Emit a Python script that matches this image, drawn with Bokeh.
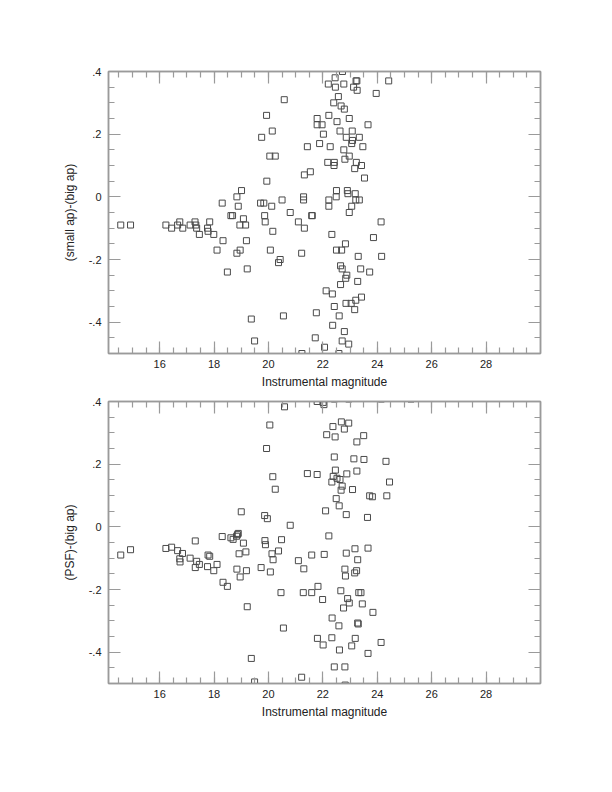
from bokeh.plotting import figure
from bokeh.layouts import column
from bokeh.models import Range1d, LinearAxis, FixedTicker, CustomJSTickFormatter
from bokeh.embed import file_html
from bokeh.resources import INLINE
import numpy as np

# ---- data: top panel, (small ap)-(big ap) vs instrumental magnitude ----
mag_top = [14.57, 14.93, 16.23, 16.44, 16.66, 16.74, 16.85, 17.12, 17.30, 17.33, 17.36, 17.46,
           17.76, 17.78, 17.84, 17.99, 18.11, 18.30, 18.33, 18.49, 18.62, 18.68, 18.84, 18.84,
           18.89, 18.96, 18.95, 19.01, 19.08, 19.16, 19.19, 19.22, 19.37, 19.49, 19.75, 19.71,
           19.83, 19.86, 19.88, 19.93, 19.94, 20.05, 20.07, 20.12, 20.14, 20.16, 20.25, 20.37,
           20.43, 20.50, 20.55, 20.58, 20.80, 21.10, 21.22, 21.23, 21.29, 21.29, 21.32, 21.32,
           21.43, 21.54, 21.59, 21.61, 21.76, 21.72, 21.79, 21.79, 21.88, 21.97, 22.02, 22.06,
           22.12, 22.20, 22.22, 22.18, 22.22, 22.22, 22.27, 22.33, 22.35, 22.36, 22.40, 22.41,
           22.42, 22.42, 22.45, 22.46, 22.49, 22.50, 22.50, 22.52, 22.57, 22.59, 22.60, 22.63,
           22.65, 22.67, 22.69, 22.71, 22.65, 22.71, 22.72, 22.77, 22.77, 22.79, 22.79, 22.81,
           22.83, 22.84, 22.85, 22.86, 22.88, 22.90, 22.92, 22.97, 22.97, 22.97, 22.95, 23.04,
           23.06, 23.06, 23.08, 23.09, 23.13, 23.17, 23.17, 23.19, 23.21, 23.21, 23.22, 23.25,
           23.23, 23.26, 23.30, 23.28, 23.34, 23.34, 23.39, 23.42, 23.42, 23.47, 23.53, 23.66,
           23.72, 23.86, 23.96, 24.14, 24.16, 24.42]
diff_top = [-0.09, -0.09, -0.09, -0.10, -0.09, -0.08, -0.10, -0.09, -0.08, -0.09, -0.10, -0.12,
            -0.10, -0.11, -0.08, -0.12, -0.17, -0.02, -0.14, -0.24, -0.06, -0.06, 0.00, -0.18,
            -0.03, -0.17, -0.09, 0.02, -0.07, -0.09, -0.14, -0.23, -0.39, -0.46, 0.19, -0.02,
            -0.02, -0.06, -0.08, 0.26, 0.05, 0.13, -0.17, -0.03, 0.21, -0.11, 0.13, -0.21,
            -0.20, -0.01, -0.38, 0.31, -0.05, -0.08, -0.18, -0.50, 0.00, -0.01, 0.07, -0.10,
            0.16, 0.08, -0.06, -0.06, -0.37, -0.45, 0.25, 0.23, 0.17, 0.23, 0.20, -0.48,
            -0.30, 0.36, 0.26, 0.11, -0.03, -0.01, 0.16, -0.12, -0.31, -0.41, 0.30, 0.10,
            0.11, -0.35, 0.38, 0.35, 0.00, 0.02, -0.17, 0.24, 0.32, -0.50, -0.38, 0.21,
            -0.22, 0.29, -0.17, -0.23, -0.28, -0.46, 0.40, 0.36, 0.15, 0.28, -0.43, 0.12,
            -0.15, -0.26, -0.34, 0.19, -0.25, 0.02, 0.01, 0.25, -0.05, 0.13, -0.47, -0.34,
            -0.03, 0.17, 0.21, 0.18, 0.35, 0.09, -0.36, 0.01, -0.01, -0.33, 0.37, 0.37,
            0.11, 0.34, -0.19, -0.27, -0.01, 0.19, -0.23, 0.10, -0.32, 0.16, 0.06, 0.23,
            -0.24, -0.13, 0.33, -0.08, -0.19, 0.37]

# ---- data: bottom panel, (PSF)-(big ap) vs instrumental magnitude ----
mag_bot = [14.57, 14.93, 16.23, 16.44, 16.66, 16.74, 16.75, 16.84, 17.12, 17.31, 17.31, 17.36,
           17.46, 17.78, 17.76, 17.84, 17.99, 18.11, 18.30, 18.33, 18.49, 18.62, 18.70, 18.83,
           18.86, 18.89, 18.84, 18.92, 18.96, 19.00, 19.08, 19.17, 19.19, 19.22, 19.37, 19.49,
           19.73, 19.86, 19.87, 19.89, 19.93, 19.96, 20.05, 20.07, 20.13, 20.16, 20.17, 20.25,
           20.37, 20.46, 20.48, 20.55, 20.59, 20.80, 21.10, 21.22, 21.28, 21.30, 21.43, 21.59,
           21.59, 21.79, 21.79, 21.80, 21.82, 21.99, 22.01, 22.01, 22.05, 22.04, 22.10, 22.14,
           22.22, 22.33, 22.34, 22.37, 22.33, 22.38, 22.42, 22.42, 22.45, 22.46, 22.49, 22.52,
           22.59, 22.60, 22.61, 22.63, 22.66, 22.67, 22.68, 22.71, 22.76, 22.79, 22.81, 22.81,
           22.83, 22.86, 22.88, 22.86, 22.91, 22.95, 22.97, 22.82, 23.06, 23.09, 23.14, 23.17,
           23.18, 23.24, 23.19, 23.25, 23.25, 23.28, 23.30, 23.28, 23.32, 23.40, 23.45, 23.50,
           23.51, 23.64, 23.66, 23.66, 23.72, 23.82, 23.84, 24.14, 24.32, 24.35, 24.45,
           22.42, 22.95, 24.15, 25.24]
diff_bot = [-0.090, -0.073, -0.069, -0.065, -0.076, -0.102, -0.112, -0.085, -0.100, -0.045, -0.130, -0.110,
            -0.120, -0.090, -0.127, -0.094, -0.140, -0.120, -0.031, -0.177, -0.190, -0.035, -0.040, -0.030,
            -0.025, -0.021, -0.135, -0.086, -0.160, 0.048, -0.052, -0.080, -0.140, -0.255, -0.420, -0.495,
            -0.130, 0.036, -0.044, -0.057, 0.250, 0.026, 0.325, -0.144, -0.086, 0.160, -0.105, 0.120,
            -0.077, -0.210, -0.041, -0.323, 0.383, 0.005, -0.108, -0.480, -0.210, -0.134, 0.170, -0.090,
            -0.210, 0.400, 0.167, -0.356, -0.190, -0.232, -0.377, 0.397, -0.088, 0.390, 0.051, 0.294,
            -0.029, 0.143, -0.291, 0.320, -0.354, 0.161, 0.223, -0.447, 0.287, 0.181, 0.090, 0.155,
            -0.316, 0.067, -0.393, 0.151, -0.204, 0.117, 0.335, 0.130, -0.259, 0.312, -0.447, -0.135,
            -0.157, 0.039, 0.169, -0.084, -0.229, 0.331, -0.243, -0.505, -0.380, 0.119, 0.217, -0.147,
            -0.070, -0.140, -0.356, 0.271, 0.178, -0.307, -0.310, -0.105, -0.210, -0.210, -0.246, 0.291,
            0.215, 0.030, -0.068, -0.404, 0.099, 0.096, -0.273, -0.369, 0.209, 0.099, 0.143,
            0.408, 0.408, 0.408, 0.408]

x_major = [16, 18, 20, 22, 24, 26, 28]
y_major = [-0.4, -0.2, 0.0, 0.2, 0.4]
x_label = "Instrumental magnitude"
y_labels = ["(small ap)-(big ap)", "(PSF)-(big ap)"]

FONT = "Liberation Sans"
FRAME_COL = "#9a9a9a"
MARK_COL = "#4a4a4a"

x_minor = [float(v) for v in np.arange(14.5, 30.0, 0.5)]
y_minor = [round(float(v), 2) for v in np.arange(-0.45, 0.40, 0.05)]


def make_fig(xs, ys, ylabel, top_border, height_bottom):
    p = figure(frame_width=432, frame_height=282,
               x_range=Range1d(14.12, 30.0), y_range=Range1d(-0.5, 0.4),
               x_axis_location=None, y_axis_location=None,
               output_backend="svg", toolbar_location=None,
               min_border_left=108, min_border_right=40,
               min_border_top=top_border, min_border_bottom=height_bottom,
               background_fill_color="white", border_fill_color="white")
    p.grid.visible = False
    p.outline_line_color = FRAME_COL
    p.outline_line_width = 1.5

    def style(ax, ticker, labelled):
        ax.ticker = ticker
        ax.axis_line_color = FRAME_COL
        ax.axis_line_width = 1.5
        ax.major_tick_line_color = FRAME_COL
        ax.minor_tick_line_color = FRAME_COL
        ax.major_tick_line_width = 1.2
        ax.minor_tick_line_width = 1.2
        ax.major_tick_in = 12
        ax.major_tick_out = 0
        ax.minor_tick_in = 6
        ax.minor_tick_out = 0
        ax.major_label_text_font = FONT
        ax.major_label_text_font_size = "11px"
        ax.major_label_text_color = "#222222"
        ax.axis_label_text_font = FONT
        ax.axis_label_text_font_size = "12px"
        ax.axis_label_text_font_style = "normal"
        ax.axis_label_text_color = "#222222"
        if not labelled:
            ax.formatter = CustomJSTickFormatter(code="return '';")
            ax.major_label_standoff = 0

    xt = FixedTicker(ticks=x_major, minor_ticks=x_minor)
    yt = FixedTicker(ticks=y_major, minor_ticks=y_minor)

    bx = LinearAxis(axis_label=x_label)
    style(bx, xt, True)
    bx.major_label_standoff = 6
    bx.axis_label_standoff = 4
    p.add_layout(bx, "below")

    ly = LinearAxis(axis_label=ylabel)
    style(ly, yt, True)
    ly.formatter = CustomJSTickFormatter(
        code="if (Math.abs(tick) < 1e-9) { return '0'; } var s = tick.toFixed(1); return s.replace('0.', '.');")
    ly.major_label_standoff = 7
    ly.axis_label_standoff = 9
    p.add_layout(ly, "left")

    ta = LinearAxis()
    style(ta, FixedTicker(ticks=x_major, minor_ticks=x_minor), False)
    p.add_layout(ta, "above")

    ra = LinearAxis()
    style(ra, FixedTicker(ticks=y_major, minor_ticks=y_minor), False)
    p.add_layout(ra, "right")

    p.scatter(xs, ys, marker="square", size=6, fill_color=None,
              line_color=MARK_COL, line_width=1)
    return p


p1 = make_fig(mag_top, diff_top, y_labels[0], 71, 42)
p2 = make_fig(mag_bot, diff_bot, y_labels[1], 6, 42)

layout = column(p1, p2, spacing=0)
open("out.html", "w").write(file_html(layout, INLINE))
